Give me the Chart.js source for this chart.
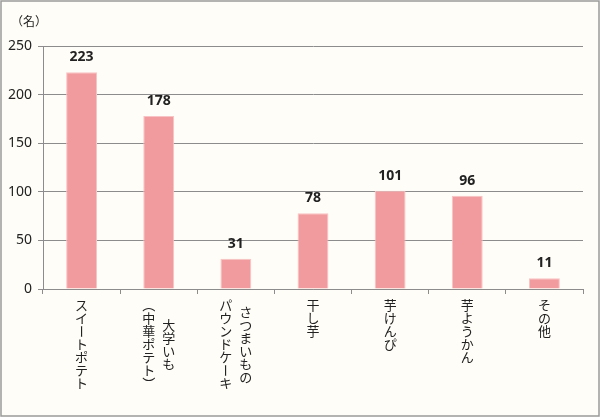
<!DOCTYPE html>
<html><head><meta charset="utf-8">
<script src="https://cdn.jsdelivr.net/npm/chart.js@4.4.0/dist/chart.umd.min.js"></script>
<style>html,body{margin:0;padding:0;background:#fffdf7;}#wrap{width:600px;height:417px;position:relative;}</style>
</head><body><div id="wrap"><canvas id="c" width="600" height="417"></canvas></div>
<script>
const categories = [['スイートポテト'], ['大学いも','（中華ポテト）'], ['さつまいもの','パウンドケーキ'], ['干し芋'], ['芋けんぴ'], ['芋ようかん'], ['その他']];
const values = [223, 178, 31, 78, 101, 96, 11];
const yTicks = [0, 50, 100, 150, 200, 250];
const yUnit = '（名）';

const JP = '"Noto Sans CJK JP", "Noto Sans", sans-serif';
const NUM = '"Noto Sans", "Open Sans", sans-serif';

const plugin = {
  id: 'custom',
  beforeDraw(chart) {
    const ctx = chart.ctx;
    ctx.save();
    ctx.fillStyle = '#fffdf7';
    ctx.fillRect(0, 0, chart.width, chart.height);
    ctx.restore();
  },
  afterDraw(chart) {
    const ctx = chart.ctx;
    const xs = chart.scales.x;
    const meta = chart.getDatasetMeta(0);
    ctx.save();
    // border
    ctx.strokeStyle = '#9a9a9a';
    ctx.lineWidth = 1.5;
    ctx.strokeRect(1, 1, chart.width - 2, chart.height - 2);
    // unit
    ctx.fillStyle = '#222';
    ctx.font = '12px ' + JP;
    ctx.textAlign = 'center';
    ctx.textBaseline = 'middle';
    ctx.fillText(yUnit, 29, 21);
    // data labels
    ctx.font = 'bold 14px ' + NUM;
    ctx.textBaseline = 'middle';
    meta.data.forEach((bar, i) => {
      ctx.fillText(String(values[i]), bar.x, bar.y - 15);
    });
    // vertical category labels
    ctx.font = '13px ' + JP;
    const cell = 13;
    const top = 299;
    categories.forEach((lines, i) => {
      const cx = xs.getPixelForValue(i);
      const n = lines.length;
      const maxLen = Math.max(...lines.map(l => [...l].length));
      lines.forEach((line, j) => {
        const colX = cx + ((n - 1) / 2 - j) * 20;
        const chars = [...line];
        const off = (maxLen - chars.length) * cell / 2;
        chars.forEach((ch, k) => {
          const cy = top + off + cell * k + cell / 2;
          ctx.save();
          ctx.translate(colX, cy);
          if ('ー（）()'.includes(ch)) ctx.rotate(Math.PI / 2);
          ctx.fillText(ch, 0, 0);
          ctx.restore();
        });
      });
    });
    ctx.restore();
  }
};

new Chart(document.getElementById('c'), {
  type: 'bar',
  data: {
    labels: categories.map(c => c.join('')),
    datasets: [{
      data: values,
      backgroundColor: '#f29b9f',
      borderColor: '#f8c3c5',
      borderWidth: 1,
      barPercentage: 0.4,
      categoryPercentage: 1
    }]
  },
  options: {
    responsive: false,
    animation: false,
    devicePixelRatio: 1,
    layout: { padding: { left: 0, right: 17, top: 46, bottom: 0 } },
    plugins: { legend: { display: false }, tooltip: { enabled: false } },
    scales: {
      x: {
        grid: { display: true, drawOnChartArea: false, drawTicks: true, tickLength: 5, color: '#8c8c8c', offset: true },
        border: { color: '#8c8c8c', width: 1 },
        ticks: { display: false },
        afterFit(s) { s.height = 128; }
      },
      y: {
        min: 0, max: 250,
        afterBuildTicks(s) { s.ticks = yTicks.map(v => ({ value: v })); },
        grid: { color: '#8c8c8c', tickLength: 5 },
        border: { color: '#8c8c8c', width: 1 },
        ticks: { font: { size: 14, family: NUM }, color: '#222', padding: 6 },
        afterFit(s) { s.width = 43; }
      }
    }
  },
  plugins: [plugin]
});
</script></body></html>
